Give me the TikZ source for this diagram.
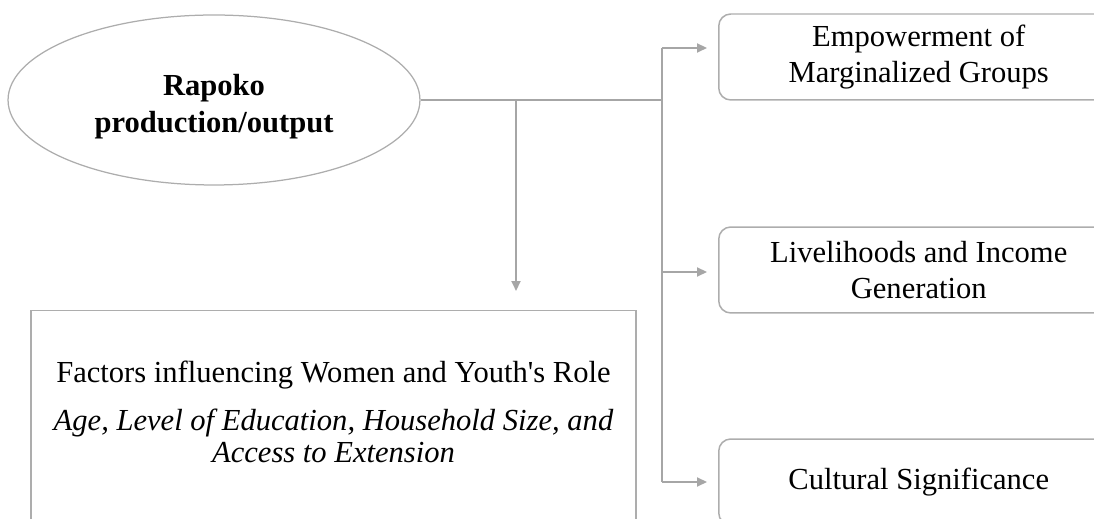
\documentclass[tikz,border=0pt]{standalone}
\usepackage{fontspec}
\setmainfont{Liberation Serif}
\usetikzlibrary{arrows.meta, shapes.geometric}

\begin{document}
\begin{tikzpicture}[x=0.02cm, y=-0.02cm]
    % Define colours
    \definecolor{lineColour}{HTML}{A6A6A6}
    \definecolor{borderColour}{HTML}{ADADAD}

    % Define styles
    \tikzset{
        link/.style={draw=lineColour, line width=0.04cm},
        arrow/.style={link, -{Triangle[length=0.2cm, width=0.18cm]}},
        hub/.style={ellipse, draw=borderColour, line width=0.025cm, minimum width=8.24cm, minimum height=3.4cm, inner sep=0pt},
        hubtext/.style={align=center, inner sep=0pt, font=\fontsize{17.4}{21.2}\selectfont\bfseries},
        outcome/.style={rectangle, rounded corners=0.24cm, draw=borderColour, line width=0.03cm, minimum width=8cm, minimum height=1.72cm, anchor=west, align=center, font=\fontsize{17.4}{21}\selectfont},
        factorbox/.style={rectangle, draw=borderColour, line width=0.03cm, minimum width=12.1cm, minimum height=4.6cm, anchor=north}
    }

    % Clip to the page
    \clip (0,0) rectangle (1094,519);

    % Draw the central ellipse
    \node[hub] (rapoko) at (214,100) {};
    \node[hubtext] (rapokotext) at (214,107) {Rapoko\\production/output};

    % Draw the outcome boxes
    \node[outcome] (empower) at (718,57) {Empowerment of\\Marginalized Groups};
    \node[outcome] (livelihood) at (718,270) {Livelihoods and Income\\Generation};
    \node[outcome] (culture) at (718,482) {Cultural Significance};

    % Draw the factors box and its text
    \node[factorbox] (factors) at (333.5,310) {};
    \node[align=center, inner sep=0pt, font=\fontsize{17.4}{18.2}\selectfont] (factortext) at (333.5,412)
        {Factors influencing Women and Youth\textquotesingle s Role\\[9.1pt]
         \itshape Age, Level of Education, Household Size, and\\
         \itshape Access to Extension};

    % Define coordinates for the branch points
    \coordinate (bus) at (662,100);
    \coordinate (drop) at (516,100);
    \coordinate (busA) at (662,48);
    \coordinate (busB) at (662,272);
    \coordinate (busC) at (662,482);

    % Draw the connectors
    \draw[link] (rapoko.east) -- (bus);
    \draw[link] (busA) -- (busC);
    \draw[arrow, shorten >=0.38cm] (drop) -- (drop |- factors.north);
    \draw[arrow, shorten >=0.22cm] (busA) -- (busA -| empower.west);
    \draw[arrow, shorten >=0.22cm] (busB) -- (busB -| livelihood.west);
    \draw[arrow, shorten >=0.22cm] (busC) -- (busC -| culture.west);

\end{tikzpicture}
\end{document}
